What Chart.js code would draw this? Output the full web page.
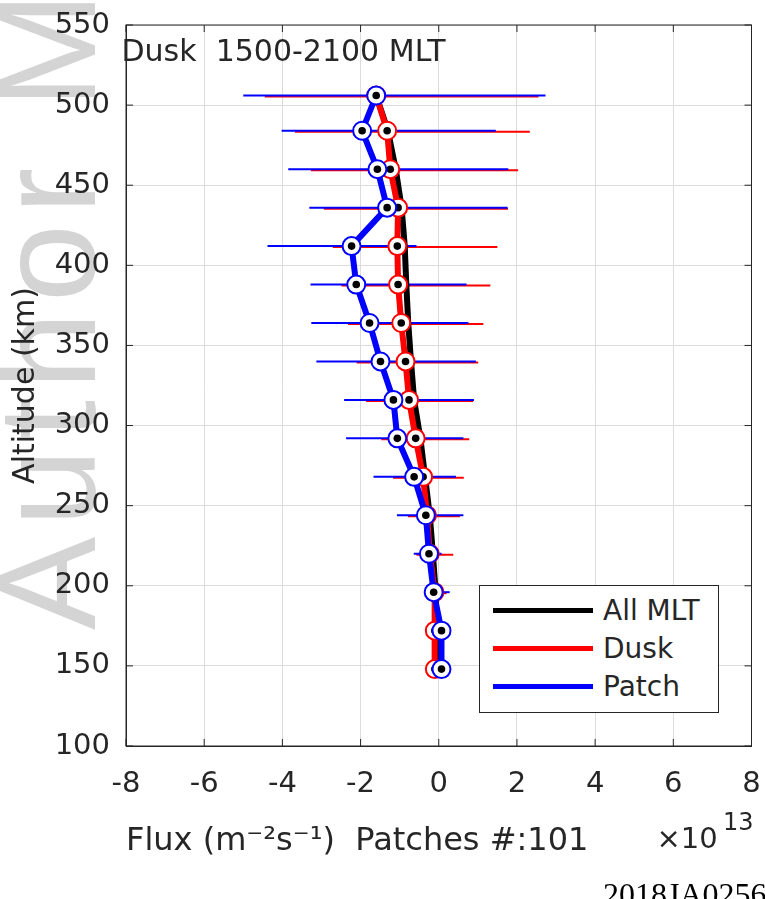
<!DOCTYPE html>
<html>
<head>
<meta charset="utf-8">
<script src="https://cdn.jsdelivr.net/npm/chart.js@4.4.1/dist/chart.umd.min.js"></script>
<style>
  html, body { margin: 0; padding: 0; background: #fff; overflow: hidden; }
  #wrap { position: relative; width: 765px; height: 899px; overflow: hidden; }
  #chart { position: absolute; left: 0; top: 0; }
  .txt { position: absolute; white-space: pre; line-height: 1; color: #262626; font-family: "DejaVu Sans"; }
  #watermark {
    position: absolute; left: 0; top: 0;
    font: 140px "Liberation Sans"; line-height: 1; letter-spacing: 10px;
    color: #d4d4d4; white-space: nowrap;
    transform-origin: 0 0; transform: translate(-23.5px, 630px) rotate(-90deg);
  }
  #legend {
    position: absolute; left: 479px; top: 585px; width: 238px; height: 126px;
    border: 1px solid #262626; background: #fff;
  }
  #legend .swatch { position: absolute; left: 13px; width: 100px; height: 5px; }
  #legend .label { position: absolute; left: 123px; font: 28px "DejaVu Sans"; line-height: 1; color: #262626; }
</style>
</head>
<body>
<div id="wrap">
  <div id="watermark">Author Manuscript</div>
  <canvas id="chart" width="765" height="899"></canvas>
  <div class="txt" style="left:121.5px; top:35.5px; font-size:30px;">Dusk  1500-2100 MLT</div>
  <div class="txt" style="left:656.5px; top:823.5px; font-size:29px;">×10</div>
  <div class="txt" style="left:723px; top:810px; font-size:24px;">13</div>
  <div class="txt" style="left:603px; top:877.5px; font-size:32px; font-family:'Liberation Serif'; color:#000;">2018JA0256</div>
  <div id="legend"></div>
</div>
<script>
// ── Data (flux in units of 1e13 m^-2 s^-1) ───────────────────────────

const altitudes   = [148, 172, 196, 220, 244, 268, 292, 316, 340, 364, 388, 412, 436, 460, 484, 506];

const allMltFlux  = [-0.05, -0.05, -0.08, -0.15, -0.23, -0.35, -0.47, -0.63, -0.71, -0.78, -0.83, -0.87, -0.95, -1.10, -1.30, -1.60];

const duskFlux    = [-0.10, -0.10, -0.11, -0.23, -0.30, -0.40, -0.59, -0.76, -0.85, -0.96, -1.04, -1.06, -1.04, -1.24, -1.32, -1.60];
const duskLow     = [-0.14, -0.14, -0.20, -0.57, -0.79, -1.17, -1.47, -1.86, -2.10, -2.32, -2.49, -2.71, -2.94, -3.27, -3.68, -4.45];
const duskHigh    = [-0.05, -0.05,  0.20,  0.37,  0.54,  0.64,  0.78,  0.88,  1.01,  1.14,  1.32,  1.50,  1.77,  2.03,  2.33,  2.55];

const patchFlux   = [ 0.07,  0.07, -0.13, -0.25, -0.33, -0.63, -1.06, -1.16, -1.49, -1.77, -2.11, -2.23, -1.32, -1.57, -1.96, -1.60];
const patchLow    = [ 0.03,  0.03, -0.25, -0.64, -1.07, -1.67, -2.37, -2.42, -3.13, -3.26, -3.28, -4.38, -3.31, -3.85, -4.02, -5.00];
const patchHigh   = [ 0.12,  0.12,  0.28,  0.07,  0.63,  0.44,  0.63,  0.90,  0.95,  0.76,  0.71, -0.57,  1.76,  1.78,  1.46,  2.73];

const seriesNames  = ['All MLT', 'Dusk', 'Patch'];
const seriesColors = ['#000000', '#ff0000', '#0000ff'];

const xTicks = [-8, -6, -4, -2, 0, 2, 4, 6, 8];
const yTicks = [100, 150, 200, 250, 300, 350, 400, 450, 500, 550];

const xTitle = 'Flux (m\u207B\u00B2s\u207B\u00B9)  Patches #:101';
const yTitle = 'Altitude (km)';

// ── Helpers ───────────────────────────────────────────────────────────

const toPoints = xs => xs.map((v, i) => ({ x: v, y: altitudes[i] }));
const ink = '#262626';

// horizontal error bars, drawn under the lines and markers
const errorBars = {
    id: 'errorBars',
    beforeDatasetsDraw(chart) {
        const { ctx, scales: { x, y } } = chart;
        ctx.save();
        ctx.lineWidth = 2;
        chart.data.datasets.forEach(ds => {
            if (!ds.errLow) return;
            ctx.strokeStyle = ds.borderColor;
            ds.errLow.forEach((lo, j) => {
                const py = y.getPixelForValue(altitudes[j]) + ds.errShift;
                ctx.beginPath();
                ctx.moveTo(x.getPixelForValue(lo), py);
                ctx.lineTo(x.getPixelForValue(ds.errHigh[j]), py);
                ctx.stroke();
            });
        });
        ctx.restore();
    }
};

// black centre dot inside each marker
const centreDots = {
    id: 'centreDots',
    afterDatasetDraw(chart, args) {
        const ds = chart.data.datasets[args.index];
        if (!ds.centreDot) return;
        const ctx = chart.ctx;
        ctx.save();
        ctx.fillStyle = '#000';
        args.meta.data.forEach(pt => {
            ctx.beginPath();
            ctx.arc(pt.x, pt.y, 3.8, 0, Math.PI * 2);
            ctx.fill();
        });
        ctx.restore();
    }
};

// box round the axes and inward tick marks
const axesBox = {
    id: 'axesBox',
    afterDraw(chart) {
        const { ctx, chartArea: a, scales: { x, y } } = chart;
        ctx.save();
        ctx.strokeStyle = ink;
        ctx.lineWidth = 1;
        ctx.beginPath();
        x.ticks.forEach(t => {
            const px = x.getPixelForValue(t.value);
            ctx.moveTo(px, a.bottom); ctx.lineTo(px, a.bottom - 7);
            ctx.moveTo(px, a.top);    ctx.lineTo(px, a.top + 7);
        });
        y.ticks.forEach(t => {
            const py = y.getPixelForValue(t.value);
            ctx.moveTo(a.left, py);  ctx.lineTo(a.left + 7, py);
            ctx.moveTo(a.right, py); ctx.lineTo(a.right - 7, py);
        });
        ctx.stroke();
        ctx.strokeRect(a.left, a.top, a.right - a.left, a.bottom - a.top);
        ctx.restore();
    }
};

// ── Chart ─────────────────────────────────────────────────────────────

Chart.defaults.font.family = 'DejaVu Sans';
Chart.defaults.color = ink;

new Chart(document.getElementById('chart'), {
    type: 'scatter',
    data: {
        datasets: [
            {
                label: seriesNames[0],
                data: toPoints(allMltFlux),
                showLine: true,
                borderColor: seriesColors[0],
                borderWidth: 6,
                pointRadius: 0,
                order: 3,
            },
            {
                label: seriesNames[1],
                data: toPoints(duskFlux),
                showLine: true,
                borderColor: seriesColors[1],
                borderWidth: 6,
                pointRadius: 9,
                pointBorderWidth: 2,
                pointBackgroundColor: '#fff',
                pointBorderColor: seriesColors[1],
                errLow: duskLow, errHigh: duskHigh, errShift: 1,
                centreDot: true,
                order: 2,
            },
            {
                label: seriesNames[2],
                data: toPoints(patchFlux),
                showLine: true,
                borderColor: seriesColors[2],
                borderWidth: 6,
                pointRadius: 9,
                pointBorderWidth: 2,
                pointBackgroundColor: '#fff',
                pointBorderColor: seriesColors[2],
                errLow: patchLow, errHigh: patchHigh, errShift: 0,
                centreDot: true,
                order: 1,
            },
        ],
    },
    options: {
        responsive: false,
        animation: false,
        events: [],
        layout: { padding: { top: 25, right: 13.5, bottom: 0, left: 0 } },
        plugins: { legend: { display: false }, tooltip: { enabled: false } },
        scales: {
            x: {
                type: 'linear',
                min: xTicks[0],
                max: xTicks[xTicks.length - 1],
                afterBuildTicks: s => { s.ticks = xTicks.map(v => ({ value: v })); },
                afterFit: s => { s.height = 153; s.paddingLeft = 0; s.paddingRight = 0; },
                grid: { color: '#dcdcdc', drawTicks: false },
                border: { color: ink, width: 1 },
                ticks: { font: { size: 29 }, padding: 21, maxRotation: 0, callback: v => String(v) },
                title: {
                    display: true, text: xTitle, align: 'start',
                    font: { size: 32 }, padding: { top: 0, bottom: 38 },
                },
            },
            y: {
                type: 'linear',
                min: yTicks[0],
                max: yTicks[yTicks.length - 1],
                afterBuildTicks: s => { s.ticks = yTicks.map(v => ({ value: v })); },
                afterFit: s => { s.width = 126; s.paddingTop = 0; s.paddingBottom = 0; },
                grid: { color: '#dcdcdc', drawTicks: false },
                border: { color: ink, width: 1 },
                ticks: { font: { size: 29 }, padding: 16, callback: v => String(v) },
                title: {
                    display: true, text: yTitle,
                    font: { size: 30 }, padding: { top: 8.5, bottom: 0 },
                },
            },
        },
    },
    plugins: [errorBars, centreDots, axesBox],
});

// ── Legend (HTML) ─────────────────────────────────────────────────────

const legend = document.getElementById('legend');
seriesNames.forEach((name, i) => {
    const rowTop = 24 + i * 38.3;
    legend.insertAdjacentHTML('beforeend', `
        <div class="swatch" style="top:${rowTop - 2.5}px; background:${seriesColors[i]}"></div>
        <div class="label" style="top:${rowTop - 13.5}px">${name}</div>
    `);
});
</script>
</body>
</html>
